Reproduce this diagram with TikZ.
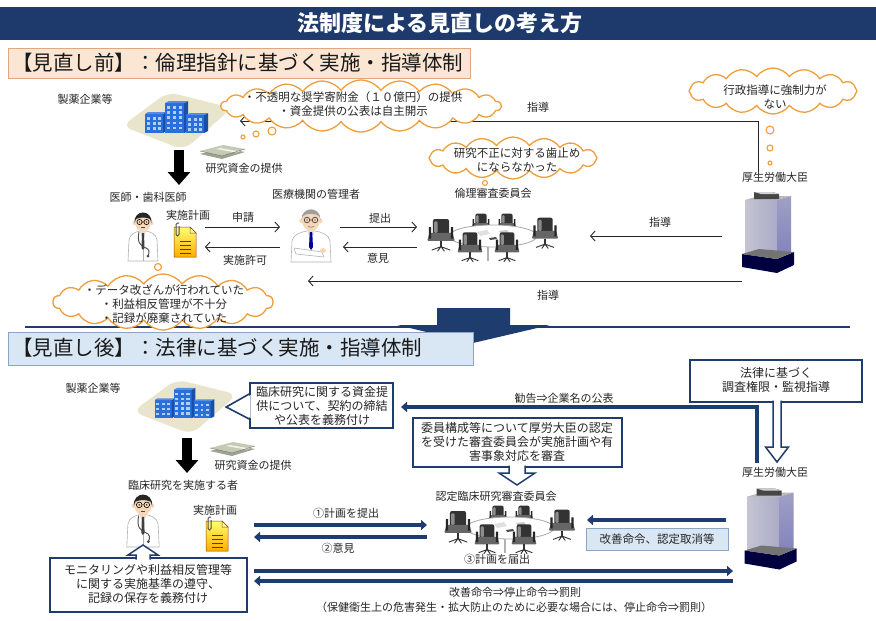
\documentclass[tikz,border=0pt]{standalone}
\usepackage{fontspec}
\setmainfont{Noto Sans CJK JP}
\usetikzlibrary{shapes.symbols,arrows.meta,calc}
\definecolor{navy}{HTML}{1F3C6E}
\definecolor{titlebar}{HTML}{1E3A6C}
\definecolor{peach}{HTML}{FBE5D3}
\definecolor{peachline}{HTML}{E3A77E}
\definecolor{lblue}{HTML}{D9E7F5}
\definecolor{lblueline}{HTML}{8CA6C2}
\definecolor{cloudor}{HTML}{EE9E3A}
\definecolor{bldblue}{HTML}{2970DC}
\definecolor{bldside}{HTML}{1A4FA8}
\definecolor{beige}{HTML}{E8E5CC}
\definecolor{skin}{HTML}{F6D7B8}
\definecolor{money}{HTML}{C5CAB5}
\tikzset{
  lbl/.style={font=\fontsize{11}{14}\selectfont, text=black!85, inner sep=0pt, align=center},
  cltxt/.style={font=\fontsize{11.5}{14.5}\selectfont, text=black!85, inner sep=0pt, align=center},
  boxtxt/.style={font=\fontsize{12}{14}\selectfont, text=black!85, inner sep=0pt, align=center},
  headtxt/.style={font=\fontsize{20.5}{22}\selectfont, text=black!90, inner sep=0pt, anchor=west},
  thought/.style={cloud, cloud puffs=#1, cloud puff arc=110, cloud ignores aspect, draw=cloudor, line width=1.3pt, fill=white, inner sep=0pt},
  bubble/.style={circle, draw=cloudor, line width=1.1pt, fill=white, inner sep=0pt},
  thinarrow/.style={draw=black!85, line width=0.9pt, -{Straight Barb[length=4.5pt,width=10pt]}},
  navyarrow/.style={draw=navy, line width=4pt, line join=miter, -{Triangle[length=6pt,width=10pt]}},
  navybox/.style={draw=navy, line width=1.6pt, fill=white, inner sep=0pt},
  blockarrow/.style={draw=navy, line width=1.5pt, fill=white, line join=miter},
  blackarrow/.style={draw=black, line width=10pt, -{Triangle[length=13pt,width=22pt]}},
  iconbox/.style={inner sep=0pt},
  company/.pic={
    \fill[beige, rounded corners=10pt] (-54,8) -- (-8,-26) -- (56,-10) -- (8,32) -- cycle;
    \fill[bldblue] (-31,-4) rectangle (-13,15);
    \fill[bldside] (-13,-4) -- (-10,-6) -- (-10,13) -- (-13,15) -- cycle;
    \fill[bldblue!80!white] (-31,-4) -- (-28,-6) -- (-10,-6) -- (-13,-4) -- cycle;
    \fill[bldblue] (-11,-15) rectangle (8,15);
    \fill[bldside] (8,-15) -- (12,-17) -- (12,13) -- (8,15) -- cycle;
    \fill[bldblue!80!white] (-11,-15) -- (-7,-17) -- (12,-17) -- (8,-15) -- cycle;
    \fill[bldblue] (10,-3) rectangle (28,15);
    \fill[bldside] (28,-3) -- (32,-5) -- (32,13) -- (28,15) -- cycle;
    \fill[bldblue!80!white] (10,-3) -- (14,-5) -- (32,-5) -- (28,-3) -- cycle;
    \foreach \i in {0,1,2} \foreach \j in {0,1,2} \fill[white!65!bldblue] (-29+\i*5.5,-1+\j*5) rectangle ++(3,2.5);
    \foreach \i in {0,1,2} \foreach \j in {0,...,4} \fill[white!65!bldblue] (-9+\i*5.8,-12+\j*5.2) rectangle ++(3.2,2.6);
    \foreach \i in {0,1,2} \foreach \j in {0,1,2} \fill[white!65!bldblue] (12+\i*5.5,0+\j*5) rectangle ++(3,2.5);
  },
  money/.pic={
    \fill[money!80!black] (-22,2) -- (1,-4) -- (23,0) -- (0,7) -- cycle;
    \fill[money] (-22,-1) -- (1,-7) -- (23,-3) -- (0,4) -- cycle;
    \fill[white!75!money] (-6,-3) -- (-2,-4) -- (18,-0.5) -- (14,0.5) -- cycle;
    \draw[money!60!black, line width=0.4pt] (-22,-1) -- (0,4) -- (23,-3);
  },
  doctor/.pic={
    \filldraw[fill=white, draw=gray!60, line width=0.6pt] (-15,25) -- (-14,4) .. controls (-13,-2) and (-8,-4) .. (-3,-5) -- (3,-5) .. controls (8,-4) and (13,-2) .. (14,4) -- (15,25) -- cycle;
    \fill[gray!25] (-3,-5) -- (3,-5) -- (0,6) -- cycle;
    \fill[gray!50!black] (-1,-3) -- (1,-3) -- (1.5,12) -- (0,14) -- (-1.5,12) -- cycle;
    \draw[gray!60, line width=0.5pt] (0,14) -- (0,25);
    \draw[black!70, line width=0.9pt] (-4,-4) .. controls (-6,6) and (-3,10) .. (3,12) .. controls (6,13) and (7,16) .. (5,20);
    \fill[black!70] (5,20) circle (1.5pt);
    \fill[skin] (-3,-8) rectangle (3,-4);
    \fill[skin] (-8.5,-13) circle (2pt) (8.5,-13) circle (2pt);
    \fill[skin] (0,-14) ellipse (8pt and 9.5pt);
    \fill[black!85] (-8.5,-13) .. controls (-9.5,-27) and (9.5,-27) .. (8.5,-13) -- (7,-17) .. controls (3,-19) and (-3,-19) .. (-7,-17) -- cycle;
    \draw[black, line width=0.6pt] (-3.5,-14) circle (2.6pt) (3.5,-14) circle (2.6pt) (-0.9,-14) -- (0.9,-14);
    \fill[black] (-3.5,-14) circle (0.7pt) (3.5,-14) circle (0.7pt);
    \draw[black!70, line width=0.5pt] (-2,-8.5) -- (2,-8.5);
  },
  manager/.pic={
    \filldraw[fill=white, draw=gray!60, line width=0.6pt] (-20,27) -- (-19,6) .. controls (-18,0) and (-11,-3) .. (-4,-4) -- (4,-4) .. controls (11,-3) and (18,0) .. (19,6) -- (20,27) -- cycle;
    \fill[blue!10] (-4,-4) -- (4,-4) -- (0,8) -- cycle;
    \fill[blue!60!black] (-1.2,-3) -- (1.2,-3) -- (2,12) -- (0,15) -- (-2,12) -- cycle;
    \filldraw[fill=white, draw=gray!60, line width=0.6pt] (-17,13) -- (11,17) -- (13,22) -- (-15,19) -- cycle;
    \fill[skin] (12,15.5) ellipse (3pt and 2.5pt);
    \fill[skin] (-3,-9) rectangle (3,-3);
    \fill[skin] (-9.5,-14) circle (2.2pt) (9.5,-14) circle (2.2pt);
    \fill[skin] (0,-15) ellipse (9pt and 11pt);
    \fill[gray!75] (-9.5,-15) .. controls (-10,-29) and (10,-29) .. (9.5,-15) -- (8,-19) .. controls (4,-22) and (-4,-22) .. (-8,-19) -- cycle;
    \draw[black!80, line width=0.6pt] (-4,-15) circle (2.8pt) (4,-15) circle (2.8pt) (-1.2,-15) -- (1.2,-15);
    \fill[black] (-4,-15) circle (0.7pt) (4,-15) circle (0.7pt);
    \draw[black!60, line width=0.5pt] (-3,-8.5) .. controls (-1,-7.5) and (1,-7.5) .. (3,-8.5);
  },
  docicon/.pic={
    \shade[top color=yellow!55!white, bottom color=orange!65!yellow] (-11,-15) -- (5,-15) -- (11,-9) -- (11,15) -- (-11,15) -- cycle;
    \draw[orange!55!black, line width=0.5pt] (-11,-15) -- (5,-15) -- (11,-9) -- (11,15) -- (-11,15) -- cycle;
    \filldraw[fill=yellow!30!white, draw=orange!55!black, line width=0.5pt] (5,-15) -- (5,-9) -- (11,-9) -- cycle;
    \foreach \yy in {-1,3,7,11} \draw[black!75, line width=0.8pt] (-5,\yy) -- (6,\yy);
    \draw[gray!60!black, line width=1pt, rounded corners=1.5pt] (-6,-19) -- (-9,-19) -- (-9,-6) -- (-6,-6) -- (-6,-16);
  },
  chair/.pic={
    \fill[black!80, rounded corners=2pt] (-7,-13) rectangle (7,1);
    \fill[black!45, rounded corners=1pt] (-6,-11) rectangle (-3,-1);
    \fill[black!60, rounded corners=1pt] (-10,-1) -- (10,-1) -- (12,6) -- (-12,6) -- cycle;
    \fill[black!85] (-10.5,-6) rectangle (-8.5,4) (8.5,-6) rectangle (10.5,4);
    \draw[black!80, line width=1.3pt] (0,6) -- (0,11);
    \draw[black!80, line width=0.9pt] (-8,14) -- (0,11) -- (8,14) (0,11) -- (-3,15) (0,11) -- (3,15);
  },
  meeting/.pic={
    \pic[scale=0.8] at (-12,-13) {chair};
    \pic[scale=0.8] at (14,-13) {chair};
    \filldraw[fill=white, draw=gray!70, line width=0.8pt] (0,-1) ellipse (44pt and 11pt);
    \fill[gray!25] (-16,-5) -- (-6,-7) -- (-3,-3) -- (-13,-1) -- cycle;
    \fill[gray!40] (6,-6) -- (14,-7) -- (16,-4) -- (8,-3) -- cycle;
    \fill[black!70] (-4,1) -- (3,0) -- (4,2) -- (-3,3) -- cycle;
    \draw[gray!60, line width=1.5pt] (-5,10) -- (-5,24);
    \pic[scale=1.15] at (-52,-3) {chair};
    \pic[scale=1.1] at (52,-5) {chair};
    \pic[scale=1.05] at (-23,9) {chair};
    \pic[scale=1.05] at (14,9) {chair};
  },
  tower/.pic={
    \shade[left color=blue!15!gray!40, right color=blue!20!gray!55] (-24,-32) rectangle (8,24);
    \shade[top color=blue!25!gray!60, bottom color=blue!30!gray!75] (8,-32) -- (22,-36) -- (22,20) -- (8,24) -- cycle;
    \fill[gray!55] (-24,-32) -- (8,-32) -- (22,-36) -- (-10,-36) -- cycle;
    \fill[gray!55!black] (-15,-40) -- (3,-40) -- (10,-38) -- (10,-33) -- (-15,-33) -- cycle;
    \fill[gray!35] (-15,-40) -- (3,-40) -- (10,-38) -- (-8,-38) -- cycle;
    \fill[black!75!blue] (-27,22) -- (8,27) -- (25,20) -- (25,33) -- (8,41) -- (-27,35) -- cycle;
    \fill[black!55] (-27,22) -- (-10,17) -- (25,20) -- (8,27) -- cycle;
  },
}
\begin{document}
\begin{tikzpicture}[x=1pt,y=-1pt]
\useasboundingbox (0,0) rectangle (876,621);
\fill[white] (0,0) rectangle (876,621);

% ---------- title ----------
\fill[titlebar] (0,7) rectangle (876,40);
\node[font=\bfseries\fontsize{22}{24}\selectfont, text=white, inner sep=0pt] (title) at (440,23) {法制度による見直しの考え方};

% ---------- top heading ----------
\node[iconbox, anchor=north west, draw=peachline, fill=peach, line width=1pt, minimum width=462pt, minimum height=30pt] (h1box) at (8,48) {};
\node[headtxt] (h1) at (12,63) {【見直し前】：倫理指針に基づく実施・指導体制};

% ---------- top icons ----------
\node[lbl] (co1lbl) at (85,99) {製薬企業等};
\node[iconbox, minimum width=62pt, minimum height=30pt] (co1) at (176,118) {};
\pic at (co1) {company};
\node[iconbox, minimum width=45pt, minimum height=12pt] (mo1) at (222,152) {};
\pic at (mo1) {money};
\node[lbl] (fund1) at (244,168) {研究資金の提供};
\coordinate (ba1s) at (179,150);
\coordinate (ba1e) at (179,185);
\draw[blackarrow] (ba1s) -- (ba1e);
\node[lbl] (dr1lbl) at (148,197) {医師・歯科医師};
\node[lbl] (mgrlbl) at (316,194) {医療機関の管理者};
\node[lbl] (irb1lbl) at (493,193) {倫理審査委員会};
\node[lbl] (min1lbl) at (775,177) {厚生労働大臣};
\node[lbl] (plan1lbl) at (188,215) {実施計画};
\node[iconbox, minimum width=30pt, minimum height=50pt] (dr1) at (143,236) {};
\pic at (dr1) {doctor};
\node[iconbox, minimum width=25pt, minimum height=30pt] (dc1) at (185,242) {};
\pic at (dc1) {docicon};
\node[iconbox, minimum width=42pt, minimum height=55pt] (mgr) at (311,235) {};
\pic at (mgr) {manager};
\node[iconbox, minimum width=130pt, minimum height=48pt] (irb1) at (493,237) {};
\pic at (irb1) {meeting};
\node[iconbox, minimum width=52pt, minimum height=81pt] (min1) at (769,232) {};
\pic at (min1) {tower};

% ---------- top connectors ----------
\coordinate (a1s) at (205,227); \coordinate (a1e) at (280,227);
\coordinate (a2s) at (280,247); \coordinate (a2e) at (205,247);
\coordinate (a3s) at (340,227); \coordinate (a3e) at (417,227);
\coordinate (a4s) at (417,247); \coordinate (a4e) at (343,247);
\coordinate (g1s) at (758,172); \coordinate (g1e) at (240,121);
\coordinate (g2s) at (722,236); \coordinate (g2e) at (590,236);
\coordinate (g3s) at (742,281); \coordinate (g3e) at (308,281);
\draw[thinarrow] (a1s) -- (a1e);
\draw[thinarrow] (a2s) -- (a2e);
\draw[thinarrow] (a3s) -- (a3e);
\draw[thinarrow] (a4s) -- (a4e);
\draw[thinarrow] (g1s) |- (g1e);
\draw[thinarrow] (g2s) -- (g2e);
\draw[thinarrow] (g3s) -- (g3e);
\node[lbl] (l1) at (243,217) {申請};
\node[lbl] (l2) at (245,260) {実施許可};
\node[lbl] (l3) at (380,218) {提出};
\node[lbl] (l4) at (378,258) {意見};
\node[lbl] (l5) at (538,107) {指導};
\node[lbl] (l6) at (660,222) {指導};
\node[lbl] (l7) at (548,295) {指導};

% ---------- separator ----------
\coordinate (sepL) at (25,327); \coordinate (sepR) at (850,327);
\draw[navy, line width=1.3pt] (sepL) -- (sepR);
\fill[navy] (437,308) -- (510,308) -- (510,325) -- (550,325) -- (473,343) -- (397,325) -- (437,325) -- cycle;

% ---------- clouds ----------
\node[thought=22, minimum width=280pt, minimum height=52pt] (cl1) at (361,106) {};
\node[cltxt] (cl1t) at (353,104) {・不透明な奨学寄附金（１０億円）の提供\\・資金提供の公表は自主開示};
\node[bubble, minimum size=8pt] (b11) at (272,131) {};
\node[bubble, minimum size=6pt] (b12) at (256,134) {};
\node[bubble, minimum size=4pt] (b13) at (243,137) {};

\node[thought=16, minimum width=168pt, minimum height=46pt] (cl2) at (773,91) {};
\node[cltxt] (cl2t) at (775,97) {行政指導に強制力が\\ない};
\node[bubble, minimum size=8pt] (b21) at (770,130) {};
\node[bubble, minimum size=6pt] (b22) at (770,148) {};
\node[bubble, minimum size=4pt] (b23) at (770,163) {};

\node[thought=16, minimum width=168pt, minimum height=42pt] (cl3) at (513,158) {};
\node[cltxt] (cl3t) at (517,160) {研究不正に対する歯止め\\にならなかった};
\node[bubble, minimum size=5pt] (b31) at (485,183) {};

\node[thought=18, minimum width=220pt, minimum height=56pt] (cl4) at (163,302) {};
\node[cltxt, font=\fontsize{11.5}{14}\selectfont] (cl4t) at (164,304) {・データ改ざんが行われていた\\・利益相反管理が不十分\\・記録が廃棄されていた};
\node[bubble, minimum size=7pt] (b41) at (158,267) {};

% ---------- bottom heading ----------
\node[iconbox, anchor=north west, draw=lblueline, fill=lblue, line width=1pt, minimum width=465pt, minimum height=33pt] (h2box) at (8,332) {};
\node[headtxt] (h2) at (12,348) {【見直し後】：法律に基づく実施・指導体制};

% ---------- bottom icons ----------
\node[lbl] (co2lbl) at (93,388) {製薬企業等};
\node[iconbox, minimum width=60pt, minimum height=30pt] (co2) at (184,404) {};
\pic[scale=0.95] at (co2) {company};
\node[iconbox, minimum width=45pt, minimum height=12pt] (mo2) at (232,449) {};
\pic at (mo2) {money};
\node[lbl] (fund2) at (253,465) {研究資金の提供};
\coordinate (ba2s) at (187,438);
\coordinate (ba2e) at (187,473);
\draw[blackarrow] (ba2s) -- (ba2e);
\node[lbl] (dr2lbl) at (183,485) {臨床研究を実施する者};
\node[iconbox, minimum width=30pt, minimum height=55pt] (dr2) at (143,520) {};
\pic[scale=1.08] at (dr2) {doctor};
\node[lbl] (plan2lbl) at (215,510) {実施計画};
\node[iconbox, minimum width=27pt, minimum height=30pt] (dc2) at (217,536) {};
\pic at (dc2) {docicon};
\node[lbl] (irb2lbl) at (496,496) {認定臨床研究審査委員会};
\node[iconbox, minimum width=126pt, minimum height=50pt] (irb2) at (510,529) {};
\pic at (irb2) {meeting};
\node[lbl] (min2lbl) at (775,472) {厚生労働大臣};
\node[iconbox, minimum width=53pt, minimum height=83pt] (min2) at (771.5,528.5) {};
\pic at (min2) {tower};

% ---------- bottom boxes ----------
\node[navybox, minimum width=143pt, minimum height=45pt] (bx1) at (321.5,405.5) {};
\node[boxtxt] (bx1t) at (322,406) {臨床研究に関する資金提\\供について、契約の締結\\や公表を義務付け};
\fill[white] ($(bx1.west)+(1.5,-10.5)$) -- ($(bx1.west)+(-21.5,1.5)$) -- ($(bx1.west)+(1.5,12.5)$) -- cycle;
\draw[navy, line width=1.6pt, line join=miter] ($(bx1.west)+(0,-11.5)$) -- ($(bx1.west)+(-23,1.5)$) -- ($(bx1.west)+(0,13.5)$);

\node[navybox, minimum width=172pt, minimum height=42pt] (bx2) at (776,381) {};
\node[boxtxt] (bx2t) at (776,380) {法律に基づく\\調査権限・監視指導};
\begin{scope}[shift={(777,402)}]
\filldraw[blockarrow] (-4,-1.5) -- (-4,45) -- (-11.5,45) -- (0,60) -- (11.5,45) -- (4,45) -- (4,-1.5);
\end{scope}

\node[navybox, minimum width=209pt, minimum height=49pt] (bx3) at (517.5,442.5) {};
\node[boxtxt] (bx3t) at (517,441.5) {委員構成等について厚労大臣の認定\\を受けた審査委員会が実施計画や有\\害事象対応を審査};
\begin{scope}[shift={(517,467)}]
\filldraw[blockarrow] (-8,-1.5) -- (-8,6) -- (-18,6) -- (0,18) -- (18,6) -- (8,6) -- (8,-1.5);
\end{scope}

\node[navybox, minimum width=197pt, minimum height=54pt] (bx4) at (148.5,585) {};
\node[boxtxt] (bx4t) at (148,584) {モニタリングや利益相反管理等\\に関する実施基準の遵守、\\記録の保存を義務付け};
\begin{scope}[shift={(143,558)}]
\filldraw[blockarrow] (-7,1.5) -- (-7,-3) -- (-15,-3) -- (0,-13) -- (15,-3) -- (7,-3) -- (7,1.5);
\end{scope}

\node[draw=lblueline, fill=lblue, line width=0.8pt, inner sep=0pt, minimum width=142pt, minimum height=22pt, font=\fontsize{11.5}{14}\selectfont, text=black!85] (bx5) at (657,539) {改善命令、認定取消等};

% ---------- bottom connectors ----------
\coordinate (k1s) at (757,463); \coordinate (k1e) at (401,407);
\coordinate (n1s) at (254,525); \coordinate (n1e) at (427,525);
\coordinate (n2s) at (427,537); \coordinate (n2e) at (254,537);
\coordinate (n3s) at (726,520); \coordinate (n3e) at (587,520);
\coordinate (n4s) at (254,571); \coordinate (n4e) at (733,571);
\coordinate (n5s) at (733,581); \coordinate (n5e) at (254,581);
\draw[navyarrow] (k1s) |- (k1e);
\draw[navyarrow] (n1s) -- (n1e);
\draw[navyarrow] (n2s) -- (n2e);
\draw[navyarrow] (n3s) -- (n3e);
\draw[navyarrow] (n4s) -- (n4e);
\draw[navyarrow] (n5s) -- (n5e);
\node[lbl] (kk) at (564,398) {勧告⇒企業名の公表};
\node[lbl] (m1) at (346,513) {①計画を提出};
\node[lbl] (m2) at (338,548) {②意見};
\node[lbl] (m3) at (497,559) {③計画を届出};
\node[lbl] (m4) at (515,592) {改善命令⇒停止命令⇒罰則};
\node[lbl] (m5) at (514,607) {（保健衛生上の危害発生・拡大防止のために必要な場合には、停止命令⇒罰則）};
\end{tikzpicture}
\end{document}
